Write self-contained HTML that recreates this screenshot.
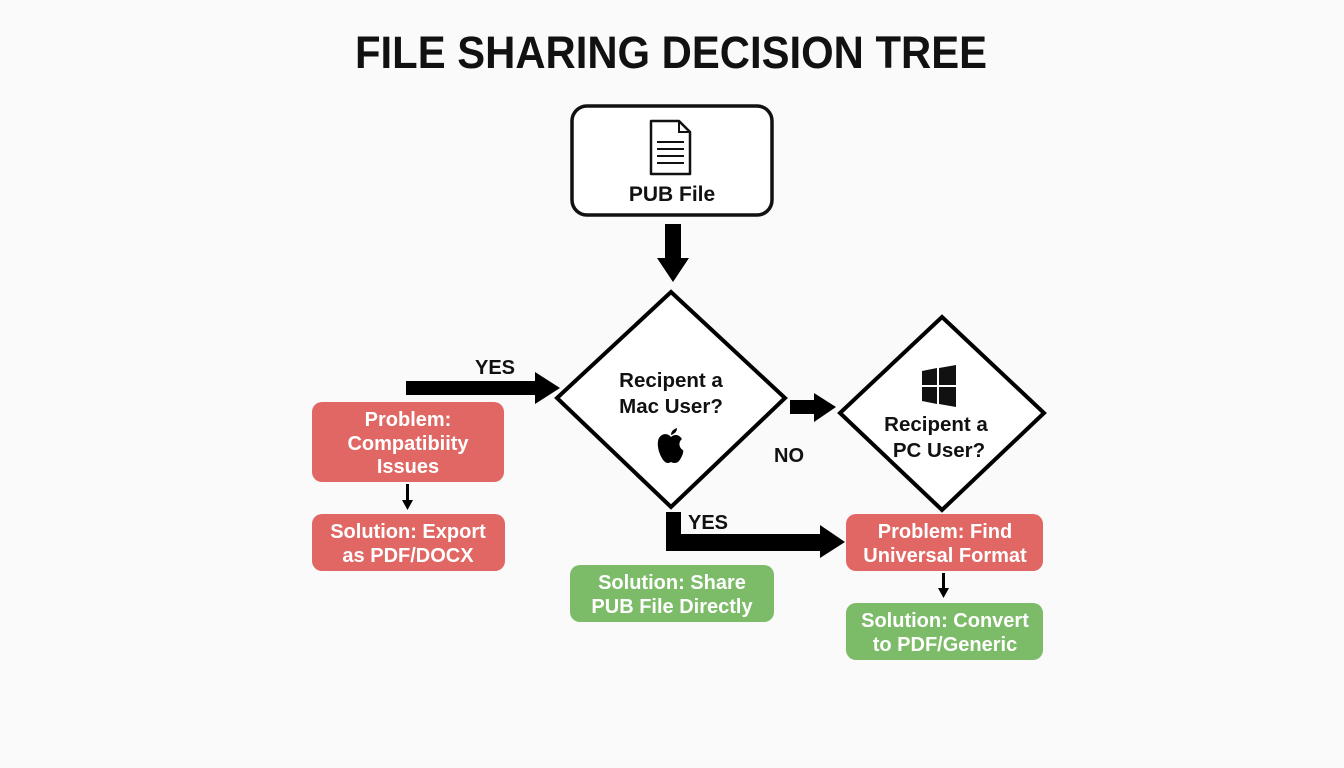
<!DOCTYPE html>
<html><head><meta charset="utf-8"><style>
html,body{margin:0;padding:0;background:#fafafa;}
svg{display:block;}
text{font-family:"Liberation Sans",sans-serif;font-weight:bold;}
</style></head><body>
<svg width="1344" height="768" viewBox="0 0 1344 768" xmlns="http://www.w3.org/2000/svg">
<rect width="1344" height="768" fill="#fafafa"/>
<text x="355" y="68" font-size="45" textLength="632" lengthAdjust="spacingAndGlyphs" fill="#111">FILE SHARING DECISION TREE</text>

<rect x="572" y="106" width="200" height="109" rx="15" fill="#fff" stroke="#111" stroke-width="3.5"/>
<path d="M651 121 H679 L690 132 V174 H651 Z" fill="#fff" stroke="#111" stroke-width="2.5" stroke-linejoin="round"/>
<path d="M679 121 V132 H690" fill="none" stroke="#111" stroke-width="2"/>
<g stroke="#111" stroke-width="2"><line x1="657" y1="142" x2="684" y2="142"/><line x1="657" y1="149" x2="684" y2="149"/><line x1="657" y1="156" x2="684" y2="156"/><line x1="657" y1="163" x2="684" y2="163"/></g>
<text x="672" y="201" font-size="21" text-anchor="middle" fill="#111">PUB File</text>

<path d="M665 224 H681 V258 H689 L673 282 L657 258 H665 Z" fill="#000"/>

<polygon points="671,292 785,398 671,507 557,398" fill="#fff" stroke="#000" stroke-width="4"/>
<text x="671" y="387" font-size="20.5" text-anchor="middle" fill="#111">Recipent a</text>
<text x="671" y="413" font-size="20.5" text-anchor="middle" fill="#111">Mac User?</text>
<path d="M671 437 C668 433 662 433 659 438 C656 444 659 455 664 461 C667 464 669 463 671 462 C673 463 676 464 679 461 C682 457 684 452 683 450 C679 448 678 442 682 439 C679 434 674 434 671 437 Z M671 435 C671 431 674 429 677 428 C677 432 674 434 671 435 Z" fill="#000"/>

<path d="M406 381 H535 V372 L560 388 L535 404 V395 H406 Z" fill="#000"/>
<text x="495" y="374" font-size="20" text-anchor="middle" fill="#111">YES</text>

<rect x="312" y="402" width="192" height="80" rx="10" fill="#e06763"/>
<text x="408" y="426" font-size="20" text-anchor="middle" fill="#fff">Problem:</text>
<text x="408" y="450" font-size="20" text-anchor="middle" fill="#fff">Compatibiity</text>
<text x="408" y="473" font-size="20" text-anchor="middle" fill="#fff">Issues</text>
<path d="M406 484 H409 V500 H413 L407.5 510 L402 500 H406 Z" fill="#000"/>
<rect x="312" y="514" width="193" height="57" rx="10" fill="#e06763"/>
<text x="408" y="538" font-size="20" text-anchor="middle" fill="#fff">Solution: Export</text>
<text x="408" y="562" font-size="20" text-anchor="middle" fill="#fff">as PDF/DOCX</text>

<path d="M790 400 H814 V393 L836 407 L814 422 V414 H790 Z" fill="#000"/>
<text x="789" y="462" font-size="20" text-anchor="middle" fill="#111">NO</text>

<polygon points="942,317 1044,413 942,510 840,413" fill="#fff" stroke="#000" stroke-width="4"/>
<path d="M922 371 L937 368 V385 H922 Z M939 368 L956 365 V385 H939 Z M922 387 H937 V404 L922 401 Z M939 387 H956 V407 L939 404 Z" fill="#111"/>
<text x="936" y="431" font-size="20.5" text-anchor="middle" fill="#111">Recipent a</text>
<text x="939" y="457" font-size="20.5" text-anchor="middle" fill="#111">PC User?</text>

<path d="M666 512 H681 V534 H820 V525 L845 542 L820 558 V551 H666 Z" fill="#000"/>
<text x="708" y="529" font-size="20" text-anchor="middle" fill="#111">YES</text>

<rect x="570" y="565" width="204" height="57" rx="10" fill="#7cbb67"/>
<text x="672" y="589" font-size="20" text-anchor="middle" fill="#fff">Solution: Share</text>
<text x="672" y="613" font-size="20" text-anchor="middle" fill="#fff">PUB File Directly</text>

<rect x="846" y="514" width="197" height="57" rx="10" fill="#e06763"/>
<text x="945" y="538" font-size="20" text-anchor="middle" fill="#fff">Problem: Find</text>
<text x="945" y="562" font-size="20" text-anchor="middle" fill="#fff">Universal Format</text>
<path d="M942 573 H945 V588 H949 L943.5 598 L938 588 H942 Z" fill="#000"/>
<rect x="846" y="603" width="197" height="57" rx="10" fill="#7cbb67"/>
<text x="945" y="627" font-size="20" text-anchor="middle" fill="#fff">Solution: Convert</text>
<text x="945" y="651" font-size="20" text-anchor="middle" fill="#fff">to PDF/Generic</text>
</svg>
</body></html>
